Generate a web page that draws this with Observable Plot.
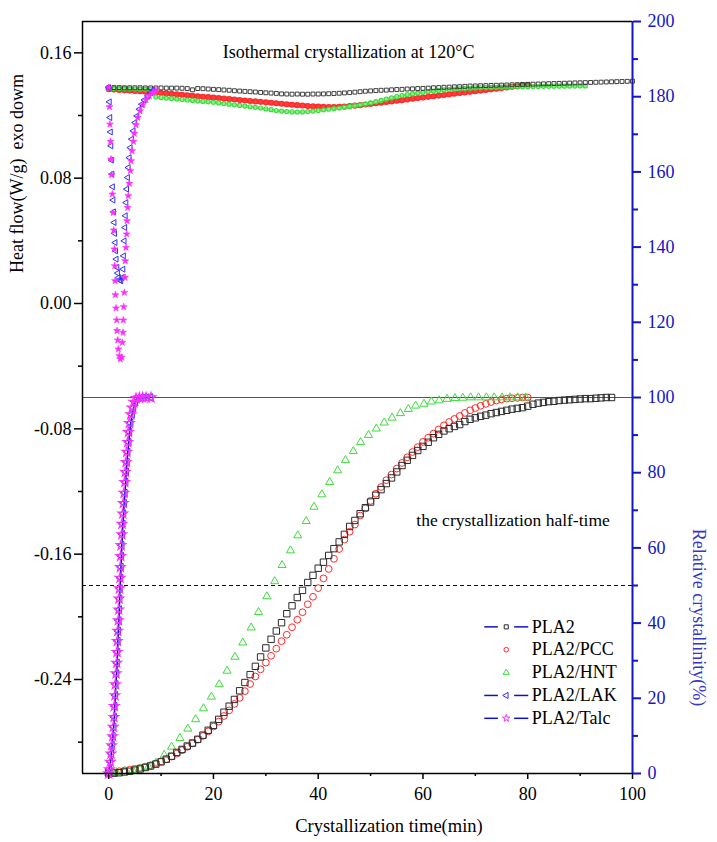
<!DOCTYPE html>
<html><head><meta charset="utf-8">
<script src="https://cdn.jsdelivr.net/npm/d3@7"></script>
<script src="https://cdn.jsdelivr.net/npm/@observablehq/plot@0.6"></script>
<style>body{margin:0;background:#fff;} svg text{font-family:"Liberation Serif","Times New Roman",serif;}</style>
</head><body><div id="chart"></div>
<script>
// ---------------- DATA ----------------
const seriesNames = ["PLA2", "PLA2/PCC", "PLA2/HNT", "PLA2/LAK", "PLA2/Talc"];

// Heat flow (W/g), sampled every 1 min from t = 0
const heatStep = 1;
const pla2Heat = [0.1378,0.1378,0.1378,0.1377,0.1377,0.1377,0.1377,0.1376,0.1376,0.1376,
0.1376,0.1375,0.1375,0.1375,0.1374,0.1372,0.1364,0.1372,0.1371,0.1369,
0.1367,0.1365,0.1363,0.1361,0.1358,0.1356,0.1354,0.1352,0.1350,0.1347,
0.1345,0.1343,0.1341,0.1338,0.1337,0.1336,0.1337,0.1336,0.1336,0.1337,
0.1337,0.1338,0.1339,0.1340,0.1342,0.1344,0.1346,0.1349,0.1352,0.1355,
0.1357,0.1359,0.1361,0.1362,0.1364,0.1366,0.1367,0.1369,0.1370,0.1372,
0.1373,0.1375,0.1377,0.1378,0.1380,0.1381,0.1383,0.1384,0.1386,0.1388,
0.1389,0.1390,0.1391,0.1392,0.1393,0.1394,0.1395,0.1396,0.1397,0.1398,
0.1399,0.1400,0.1401,0.1402,0.1403,0.1404,0.1405,0.1406,0.1407,0.1408,
0.1409,0.1410,0.1411,0.1412,0.1413,0.1414,0.1415,0.1416,0.1417,0.1418,0.1419];
const pccHeat = [0.1368,0.1366,0.1363,0.1361,0.1359,0.1357,0.1355,0.1352,0.1350,0.1347,
0.1344,0.1341,0.1338,0.1335,0.1332,0.1329,0.1326,0.1323,0.1320,0.1317,
0.1314,0.1311,0.1308,0.1305,0.1302,0.1299,0.1296,0.1293,0.1290,0.1287,
0.1284,0.1281,0.1278,0.1275,0.1272,0.1269,0.1266,0.1264,0.1261,0.1259,
0.1257,0.1255,0.1254,0.1254,0.1255,0.1257,0.1260,0.1263,0.1266,0.1270,
0.1274,0.1278,0.1282,0.1286,0.1290,0.1294,0.1298,0.1302,0.1307,0.1311,
0.1315,0.1319,0.1323,0.1327,0.1331,0.1335,0.1339,0.1343,0.1347,0.1351,
0.1355,0.1359,0.1363,0.1367,0.1371,0.1375,0.1379,0.1383,0.1387,0.1391,0.1395];
const hntHeat = [0.1374,0.1373,0.1372,0.1371,0.1370,0.1369,0.1368,0.1367,0.1366,0.1318,
0.1314,0.1311,0.1308,0.1305,0.1302,0.1299,0.1296,0.1293,0.1290,0.1287,
0.1284,0.1280,0.1276,0.1272,0.1268,0.1264,0.1260,0.1256,0.1252,0.1248,
0.1242,0.1237,0.1232,0.1228,0.1225,0.1223,0.1222,0.1223,0.1225,0.1228,
0.1232,0.1236,0.1240,0.1244,0.1248,0.1253,0.1258,0.1263,0.1268,0.1273,
0.1280,0.1288,0.1296,0.1304,0.1312,0.1320,0.1327,0.1333,0.1338,0.1343,
0.1348,0.1352,0.1356,0.1360,0.1363,0.1366,0.1368,0.1370,0.1372,0.1374,
0.1376,0.1377,0.1378,0.1379,0.1380,0.1381,0.1382,0.1383,0.1383,0.1384,
0.1384,0.1385,0.1385,0.1386,0.1386,0.1387,0.1387,0.1387,0.1388,0.1388,0.1389,0.1389];
const lakHeatT = [0.0,0.15,0.25,0.35,0.45,0.55,0.65,0.75,0.85,0.95,1.05,1.15,1.25,1.35,1.45,1.6,1.72,1.9,2.1,2.35,2.6,2.75,2.85,2.98,3.1,3.2,3.32,3.45,3.62,3.76,3.94,4.13,4.4,4.7,5.03,5.41,5.85,6.31,6.81,7.46,8.09,8.41];
const lakHeat = [0.1378,0.1287,0.1187,0.1095,0.1006,0.0915,0.0826,0.0745,0.066,0.0585,0.0517,0.0447,0.0389,0.0336,0.0283,0.023,0.0194,0.0166,0.0149,0.0145,0.0166,0.0219,0.0304,0.04,0.0485,0.056,0.0644,0.073,0.0804,0.0868,0.0931,0.0995,0.1049,0.1102,0.1155,0.1197,0.124,0.1272,0.1299,0.1325,0.1346,0.1361];
const talcHeatT = [0.0,0.15,0.25,0.35,0.45,0.55,0.7,0.85,0.95,1.08,1.16,1.22,1.28,1.4,1.53,1.6,1.72,1.84,2.03,2.22,2.49,2.6,2.74,2.79,2.87,2.98,3.12,3.17,3.31,3.44,3.5,3.63,3.75,3.94,4.13,4.27,4.46,4.71,4.9,5.22,5.55,5.99,6.5,7.13,7.76,8.41,9.04];
const talcHeat = [0.1378,0.1255,0.1144,0.1034,0.0921,0.0821,0.0698,0.058,0.0468,0.0347,0.024,0.0145,0.0055,-0.003,-0.0106,-0.0174,-0.0234,-0.0291,-0.0334,-0.0355,-0.0344,-0.0249,-0.0185,-0.0106,-0.0021,0.007,0.0166,0.0272,0.0357,0.0443,0.0528,0.0612,0.0687,0.0766,0.0847,0.091,0.0974,0.1034,0.1085,0.114,0.1187,0.1229,0.1268,0.13,0.1325,0.1346,0.1361];

// Relative crystallinity (%)
const pla2CrystStep = 1;
const pla2Cryst = [0,0.1,0.2,0.4,0.6,0.9,1.2,1.6,2.0,2.5,3.1,3.8,4.6,5.6,6.4,7.3,8.1,9.1,10.2,11.5,
12.8,14.4,16.3,17.9,19.7,22.0,24.2,26.3,28.5,31.0,33.4,35.7,37.9,40.1,42.5,44.6,46.8,48.7,50.8,52.7,
54.6,56.2,58.0,59.8,61.6,63.6,65.7,67.3,69.1,70.7,72.2,74.0,75.5,77.1,78.6,80.2,81.9,83.3,84.6,85.9,
87.0,88.1,89.3,90.2,91.1,91.7,92.3,92.8,93.6,94.2,94.6,95.0,95.3,95.7,96.0,96.3,96.6,96.9,97.1,97.3,
97.7,98.2,98.5,98.7,98.9,99.0,99.2,99.3,99.4,99.5,99.6,99.7,99.7,99.8,99.9,100,100];
const pccCrystStep = 1;
const pccCryst = [0,0.3,0.6,0.8,1.0,1.2,1.5,1.8,2.2,2.6,3.2,3.8,4.5,5.3,6.2,7.1,8.0,9.0,10.0,11.2,
12.5,13.8,15.3,16.8,18.5,20.1,21.9,23.8,25.8,27.7,29.5,31.3,33.2,35.2,36.9,38.9,40.9,42.9,45.0,47.0,
49.3,51.9,54.4,57.1,59.7,62.2,64.3,66.2,68.6,70.5,72.5,74.4,76.2,78.0,79.5,81.1,82.6,84.1,85.5,86.8,
88.2,89.3,90.4,91.5,92.6,93.5,94.3,95.1,95.9,96.6,97.2,97.8,98.3,98.8,99.2,99.5,99.7,99.8,99.9,100,100];
const hntCrystT = [0,1.5,3.1,4.6,6.0,7.6,9.0,10.6,12.0,13.6,15.1,16.6,18.1,19.6,21.1,22.6,24.1,25.6,27.2,28.6,30.2,31.7,33.1,34.7,36.1,37.7,39.2,40.7,42.2,43.7,45.2,46.7,48.1,49.6,51.1,52.6,54.1,55.7,57.2,58.6,60.2,61.6,63.1,64.6,66.1,67.6,69.1,70.6,72.1,73.6,75.1,76.6,78.1,79.6];
const hntCryst = [0,0.3,0.6,0.9,1.3,1.8,2.8,4.9,7.1,9.4,11.9,14.4,17.3,20.4,23.7,27.3,31.0,34.8,38.8,42.9,47.1,51.1,55.4,59.3,63.3,67.1,70.9,74.2,77.5,80.6,83.3,85.7,88.1,90.0,91.7,93.3,94.6,95.8,96.9,97.8,98.3,98.9,99.2,99.6,99.8,99.9,100,100,100,100,100,100,100,100];
const lakCrystT = [0,0.1,0.35,0.5,0.65,0.82,0.95,1.08,1.16,1.28,1.36,1.5,1.62,1.7,1.76,1.84,1.95,2.02,2.09,2.16,2.28,2.35,2.43,2.5,2.63,2.7,2.84,2.96,3.1,3.24,3.36,3.5,3.64,3.84,3.98,4.2,4.48,4.75,5.1,5.5,6.1,6.7,7.3,8.0];
const lakCryst = [0,1.1,3.1,5.3,7.5,9.9,12.4,15.0,17.9,20.8,23.7,26.6,29.4,32.3,35.2,37.9,40.7,43.6,46.5,49.2,52.0,54.9,57.8,60.7,63.6,66.4,69.1,71.9,74.6,77.5,80.2,82.8,85.5,88.1,90.8,93.2,95.5,97.3,98.8,99.8,100,100,100,100];
const talcCrystT = [0,0.12,0.31,0.44,0.57,0.76,0.88,1.01,1.07,1.2,1.26,1.4,1.53,1.59,1.64,1.72,1.84,1.91,1.97,2.03,2.16,2.22,2.29,2.35,2.49,2.54,2.68,2.79,2.93,3.06,3.17,3.31,3.44,3.63,3.75,3.94,4.21,4.46,4.78,5.22,5.85,6.5,7.13,8.09];
const talcCryst = [0,1.1,3.1,5.3,7.5,9.9,12.4,15.0,17.9,20.8,23.7,26.6,29.4,32.3,35.2,37.9,40.7,43.6,46.5,49.2,52.0,54.9,57.8,60.7,63.6,66.4,69.1,71.9,74.6,77.5,80.2,82.8,85.5,88.1,90.8,93.2,95.5,97.3,98.8,99.8,100,100,100,100];

// Axis ticks
const xTicks = [0, 20, 40, 60, 80, 100];
const xMinor = [10, 30, 50, 70, 90];
const heatTicks = [-0.24, -0.16, -0.08, 0.00, 0.08, 0.16];
const heatMinor = [-0.28, -0.20, -0.12, -0.04, 0.04, 0.12];
const crystTicks = [0, 20, 40, 60, 80, 100, 120, 140, 160, 180, 200];
const crystMinor = [10, 30, 50, 70, 90, 110, 130, 150, 170, 190];

// ---------------- SCALES / HELPERS ----------------
const FONT = "Liberation Serif";
const xDomain = [-5, 100];
const heatDomain = [-0.30, 0.18];
const crystDomain = [0, 200];
const c2h = d3.scaleLinear(crystDomain, heatDomain); // right axis -> left axis units

const regular = (vals, step) => vals.map((v, i) => ({t: i * step, v}));
const paired = (ts, vals) => ts.map((t, i) => ({t, v: vals[i]}));
const crystRegular = (vals, step) => vals.map((r, i) => ({t: i * step, v: c2h(r)}));
const crystPaired = (ts, vals) => ts.map((t, i) => ({t, v: c2h(vals[i])}));

const C = {pla2: "#2a2a2a", pcc: "#ff2a2a", hnt: "#3ddc3d", lak: "#2f2fff", talc: "#ff2cff", line: "#1010cc", axisBlue: "#1414c8"};

// Legend layout
const legendTopR = 39.0, legendStepR = 6.08;
const legend = [
  {name: seriesNames[0], symbol: "square", color: C.pla2, line: true, rotate: 0},
  {name: seriesNames[1], symbol: "circle", color: C.pcc, line: false, rotate: 0},
  {name: seriesNames[2], symbol: "triangle", color: C.hnt, line: false, rotate: 0},
  {name: seriesNames[3], symbol: "triangle", color: C.lak, line: true, rotate: -90},
  {name: seriesNames[4], symbol: "star", color: C.talc, line: true, rotate: 0}
].map((d, i) => ({...d, y: c2h(legendTopR - i * legendStepR)}));

const dotsFor = (data, symbol, color, r, extra = {}) =>
  Plot.dot(data, {x: "t", y: "v", symbol, stroke: color, fill: "none", r, strokeWidth: 1, ...extra});

const chart = Plot.plot({
  width: 717, height: 842,
  marginLeft: 82, marginRight: 85, marginTop: 21, marginBottom: 69,
  style: {fontFamily: FONT, fontSize: "18px", background: "white", color: "black"},
  x: {domain: xDomain},
  y: {domain: heatDomain},
  marks: [
    // reference lines
    Plot.ruleY([c2h(100)], {stroke: "#555", strokeWidth: 1}),
    Plot.ruleY([c2h(50)], {stroke: "#111", strokeWidth: 1, strokeDasharray: "4,3"}),

    // ---- upper panel: heat flow ----
    Plot.line(regular(pccHeat, heatStep), {x: "t", y: "v", stroke: C.pcc, strokeWidth: 4.5, strokeOpacity: 0.9}),
    dotsFor(regular(pccHeat, heatStep), "circle", C.pcc, 2.4, {strokeWidth: 1.3}),
    Plot.line(regular(hntHeat, heatStep), {x: "t", y: "v", stroke: "#8df08d", strokeWidth: 2.5}),
    dotsFor(regular(hntHeat, heatStep), "circle", C.hnt, 2.0, {strokeWidth: 1.2}),
    dotsFor(regular(pla2Heat, heatStep), "square", C.pla2, 2.2, {strokeWidth: 0.9}),
    dotsFor(paired(lakHeatT, lakHeat), "triangle", C.lak, 2.2, {rotate: -90}),
    dotsFor(paired(talcHeatT, talcHeat), "star", C.talc, 2.2, {fill: C.talc, strokeWidth: 0.6}),

    // ---- lower panel: relative crystallinity ----
    dotsFor(crystRegular(pccCryst, pccCrystStep), "circle", C.pcc, 3.4),
    dotsFor(crystPaired(hntCrystT, hntCryst), "triangle", C.hnt, 3.0),
    dotsFor(crystRegular(pla2Cryst, pla2CrystStep), "square", C.pla2, 3.6),
    Plot.line(crystPaired(lakCrystT, lakCryst), {x: "t", y: "v", stroke: C.line, strokeWidth: 1.6}),
    dotsFor(crystPaired(lakCrystT, lakCryst), "triangle", C.lak, 2.8, {rotate: -90}),
    dotsFor(crystPaired(talcCrystT, talcCryst), "star", C.talc, 3.0, {strokeWidth: 1.2}),

    // ---- frame lines ----
    Plot.ruleY([heatDomain[1]], {stroke: "black", strokeWidth: 1.5}),
    Plot.ruleY([heatDomain[0]], {stroke: "black", strokeWidth: 1.5}),
    Plot.ruleX([xDomain[0]], {stroke: "black", strokeWidth: 1.5}),
    Plot.ruleX([xDomain[1]], {stroke: C.axisBlue, strokeWidth: 2}),

    // ---- axes ----
    Plot.axisX({ticks: xTicks, tickSize: 6, tickPadding: 8, tickFormat: d => String(d), label: null, strokeWidth: 1.5, fontFamily: FONT, fontSize: 18}),
    Plot.axisX({ticks: xMinor, tickSize: 3, tickFormat: () => "", label: null, strokeWidth: 1.5}),
    Plot.axisY({ticks: heatTicks, tickSize: 8, tickPadding: 3, tickFormat: d => d.toFixed(2), label: null, strokeWidth: 1.5, fontFamily: FONT, fontSize: 18}),
    Plot.axisY({ticks: heatMinor, tickSize: 4, tickFormat: () => "", label: null, strokeWidth: 1.5}),
    Plot.axisY({anchor: "right", ticks: crystTicks.map(c2h), tickSize: 8, tickPadding: 7,
      tickFormat: d => String(Math.round(c2h.invert(d))), label: null, color: C.axisBlue, strokeWidth: 2, fontFamily: FONT, fontSize: 18}),
    Plot.axisY({anchor: "right", ticks: crystMinor.map(c2h), tickSize: 5, tickFormat: () => "", label: null, color: C.axisBlue, strokeWidth: 2}),

    // ---- titles & annotations ----
    Plot.text(["Heat flow(W/g)\u00a0\u00a0exo dowm"], {frameAnchor: "left", y: [0.083], text: d => d, rotate: -90, dx: -65, textAnchor: "middle", fontFamily: FONT, fontSize: 18}),
    Plot.text(["Relative crystallinity(%)"], {frameAnchor: "right", y: [c2h(41.5)], text: d => d, rotate: 90, dx: 66, textAnchor: "middle", fontFamily: FONT, fontSize: 18, fill: "#3535cc"}),
    Plot.text(["Crystallization time(min)"], {frameAnchor: "bottom", x: [53.5], text: d => d, dy: 53, textAnchor: "middle", lineAnchor: "middle", fontFamily: FONT, fontSize: 18.5}),
    Plot.text(["Isothermal crystallization at 120\u00b0C"], {x: [45.8], y: [0.1605], text: d => d, fontFamily: FONT, fontSize: 18}),
    Plot.text(["the crystallization half-time"], {x: [77.2], y: [c2h(67.4)], text: d => d, fontFamily: FONT, fontSize: 17.5}),

    // ---- legend ----
    Plot.ruleY(legend.filter(d => d.line), {y: "y", x1: 71.8, x2: 74.4, stroke: C.line, strokeWidth: 1.5}),
    Plot.ruleY(legend.filter(d => d.line), {y: "y", x1: 77.5, x2: 80.2, stroke: C.line, strokeWidth: 1.5}),
    Plot.dot(legend, {x: 75.9, y: "y", symbol: d => d.symbol, stroke: d => d.color, rotate: d => d.rotate, fill: "none", r: 2.3, strokeWidth: 1}),
    Plot.text(legend, {x: 80.75, y: "y", text: "name", textAnchor: "start", fontFamily: FONT, fontSize: 18})
  ]
});
document.getElementById("chart").append(chart);
</script>
</body></html>
